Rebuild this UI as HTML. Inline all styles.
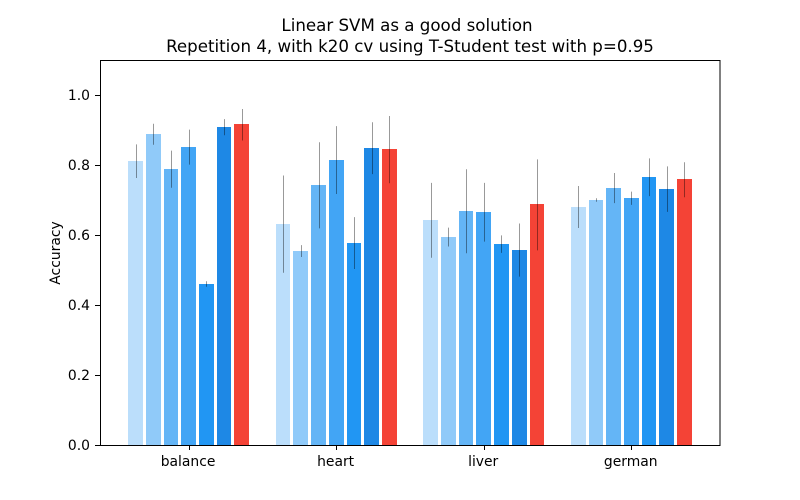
<!DOCTYPE html>
<html>
<head>
<meta charset="utf-8">
<style>
html,body{margin:0;padding:0;background:#fff;}
svg{display:block;}
text{font-family:"DejaVu Sans",sans-serif;fill:#000;}
</style>
</head>
<body>
<svg id="chart" xmlns="http://www.w3.org/2000/svg" width="800" height="500" viewBox="0 0 800 500">
<rect x="0" y="0" width="800" height="500" fill="#fff"/>
<rect x="100" y="60" width="620" height="385" fill="#fff"/>
<g id="bars"></g>
<g id="errs"></g>
<g id="axes"></g>
<text x="407" y="31" font-size="16.67" text-anchor="middle">Linear SVM as a good solution</text>
<text x="410" y="52" font-size="16.67" text-anchor="middle">Repetition 4, with k20 cv using T-Student test with p=0.95</text>
<text x="60" y="253" font-size="13.89" text-anchor="middle" transform="rotate(-90 60 253)">Accuracy</text>
</svg>
<script>
const categories = ['balance', 'heart', 'liver', 'german'];
const seriesBalance = [0.811, 0.888, 0.788, 0.851, 0.460, 0.908, 0.915];
const seriesHeart = [0.631, 0.554, 0.742, 0.814, 0.577, 0.848, 0.844];
const seriesLiver = [0.642, 0.594, 0.668, 0.665, 0.574, 0.557, 0.686];
const seriesGerman = [0.680, 0.700, 0.734, 0.705, 0.765, 0.731, 0.758];
const errorBalance = [0.048, 0.030, 0.053, 0.050, 0.008, 0.023, 0.045];
const errorHeart = [0.139, 0.017, 0.123, 0.097, 0.074, 0.074, 0.096];
const errorLiver = [0.107, 0.027, 0.120, 0.084, 0.025, 0.076, 0.130];
const errorGerman = [0.060, 0.005, 0.043, 0.019, 0.054, 0.065, 0.050];
const yTicks = [0.0, 0.2, 0.4, 0.6, 0.8, 1.0];
const barColors = ['#BBDEFB', '#90CAF9', '#64B5F6', '#42A5F5', '#2196F3', '#1E88E5', '#F44336'];

const values = [seriesBalance, seriesHeart, seriesLiver, seriesGerman];
const errors = [errorBalance, errorHeart, errorLiver, errorGerman];
const NS = 'http://www.w3.org/2000/svg';
const yMax = 1.1;

function xScale(v) { return 188.68 + v * 147.55; }
function yScale(v) { return 445 - v / yMax * 385; }

function make(tag, attrs, parent) {
  const el = document.createElementNS(NS, tag);
  for (const k in attrs) el.setAttribute(k, attrs[k]);
  parent.appendChild(el);
  return el;
}

const barsG = document.getElementById('bars');
const errsG = document.getElementById('errs');
const axesG = document.getElementById('axes');
const barW = 0.1;
const barStep = 0.12;

categories.forEach(function (cat, g) {
  values[g].forEach(function (val, i) {
    const center = g + (i - 3) * barStep;
    const x0 = Math.round(xScale(center - barW / 2));
    const x1 = Math.round(xScale(center + barW / 2));
    const y0 = Math.floor(yScale(val) + 1e-6);
    const bar = make('rect', {x: x0, y: y0, width: x1 - x0, height: 445 - y0, fill: barColors[i], 'shape-rendering': 'crispEdges'}, barsG);
    
    
    const ex = Math.round(xScale(center)) + 0.5;
    const err = errors[g][i];
    const line = make('line', {x1: ex, x2: ex, y1: yScale(val + err), y2: yScale(val - err), stroke: '#000', 'stroke-opacity': 0.4, 'stroke-width': 1}, errsG);
    
    
  });
  const tx = Math.round(xScale(g)) + 0.5;
  const tick = make('line', {x1: tx, x2: tx, y1: 445, y2: 450, stroke: '#000', 'stroke-width': 1}, axesG);
  
  
  const label = make('text', {x: xScale(g) - 0.6, y: 466, 'font-size': 13.89, 'text-anchor': 'middle'}, axesG);
  label.textContent = cat;
  
  
});

yTicks.forEach(function (t) {
  const y = Math.round(yScale(t)) + 0.5;
  const tick = make('line', {x1: 95, x2: 100, y1: y, y2: y, stroke: '#000', 'stroke-width': 1}, axesG);
  
  
  const label = make('text', {x: 90, y: y + 4.5, 'font-size': 13.89, 'text-anchor': 'end'}, axesG);
  label.textContent = t.toFixed(1);
  
  
});

const frame = make('rect', {x: 100.5, y: 60.5, width: 619.5, height: 385, fill: 'none', stroke: '#000', 'stroke-width': 1}, axesG);


</script>
</body>
</html>
